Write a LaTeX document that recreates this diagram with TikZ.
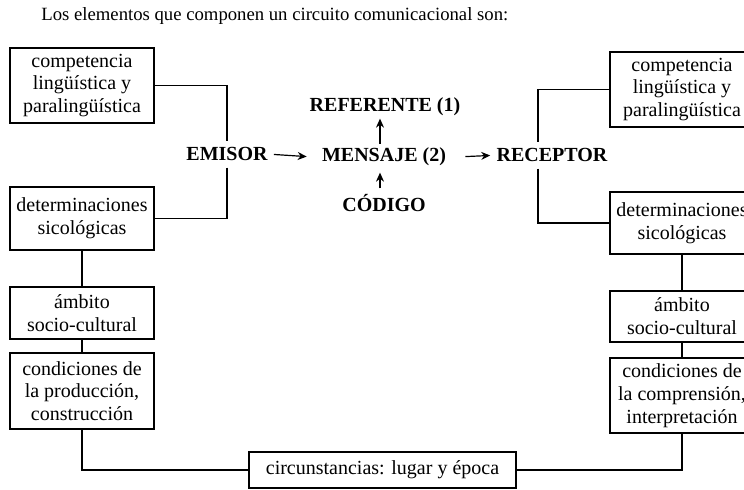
\documentclass[tikz,border=0pt]{standalone}
\usepackage{fontspec}
\setmainfont{Liberation Serif}
\usetikzlibrary{shapes,arrows,arrows.meta,positioning,calc}

\begin{document}
\begin{tikzpicture}[x=0.5pt,y=-0.5pt]
  \tikzstyle{caja}=[draw, semithick, align=center, inner sep=0pt, minimum width=72pt, font=\fontsize{10}{11.4}\selectfont]
  \tikzstyle{polo}=[inner sep=3pt, font=\fontsize{10}{12}\selectfont\bfseries]
  \tikzstyle{linea}=[-, semithick]
  \tikzstyle{flecha}=[-{Stealth[length=4.5pt,width=4pt]}, semithick]

  \useasboundingbox (0,0) rectangle (744,490);

  % Titulo
  \node[anchor=base west, inner sep=0pt, font=\fontsize{9.35}{12}\selectfont] (titulo) at (41,21)
    {Los elementos que componen un circuito comunicacional son:};

  % Elementos del centro
  \node[polo, anchor=base] (emisor) at (227,161) {EMISOR};
  \node[polo, anchor=base] (mensaje) at (384,162) {MENSAJE (2)};
  \node[polo, anchor=base] (referente) at (385,112) {REFERENTE (1)};
  \node[polo, anchor=base] (codigo) at (384,212) {CÓDIGO};
  \node[polo, anchor=base] (receptor) at (552,162) {RECEPTOR};

  % Cajas del emisor
  \node[caja, minimum height=37.5pt] (e1) at (82,85.5) {competencia\\lingüística y\\paralingüística};
  \node[caja, minimum height=31.5pt] (e2) at (82,218.5) {determinaciones\\sicológicas};
  \node[caja, minimum height=26pt] (e3) at (82,313) {ámbito\\socio-cultural};
  \node[caja, minimum height=38pt] (e4) at (82,391) {condiciones de\\la producción,\\construcción};

  % Cajas del receptor
  \node[caja, minimum height=37.5pt] (r1) at (682,89.5) {competencia\\lingüística y\\paralingüística};
  \node[caja, minimum height=31pt] (r2) at (682,223) {determinaciones\\sicológicas};
  \node[caja, minimum height=25.5pt] (r3) at (682,316.5) {ámbito\\socio-cultural};
  \node[caja, minimum height=37.5pt] (r4) at (682,395.5) {condiciones de\\la comprensión,\\interpretación};

  % Circunstancias abajo
  \node[caja, minimum width=133.5pt, minimum height=18pt] (circ) at (382.5,470) {circunstancias: lugar y época};

  % Flechas del circuito
  \draw[flecha, shorten >=4.5pt] (emisor.east) -- (mensaje.west);
  \draw[flecha, shorten <=6.5pt] (mensaje.east) -- (receptor.west);
  \draw[flecha, shorten <=-1pt, shorten >=-2pt] ([xshift=-2pt]mensaje.north) -- ([xshift=-2pt]mensaje.north |- referente.south);
  \draw[flecha] ([xshift=-2pt]codigo.north -| mensaje.north) -- ([xshift=-2pt]mensaje.south);

  % Conexiones del emisor
  \draw[linea] (e1.east) -| (emisor.north);
  \draw[linea] (emisor.south) |- (e2.east);
  \draw[linea] (e2.south) -- (e3.north);
  \draw[linea] (e3.south) -- (e4.north);
  \draw[linea] (e4.south) |- (circ.west);

  % Conexiones del receptor
  \draw[linea] (r1.west) -| ([xshift=-7pt]receptor.north);
  \draw[linea] ([xshift=-7pt]receptor.south) |- (r2.west);
  \draw[linea] (r2.south) -- (r3.north);
  \draw[linea] (r3.south) -- (r4.north);
  \draw[linea] (r4.south) |- (circ.east);
\end{tikzpicture}
\end{document}
